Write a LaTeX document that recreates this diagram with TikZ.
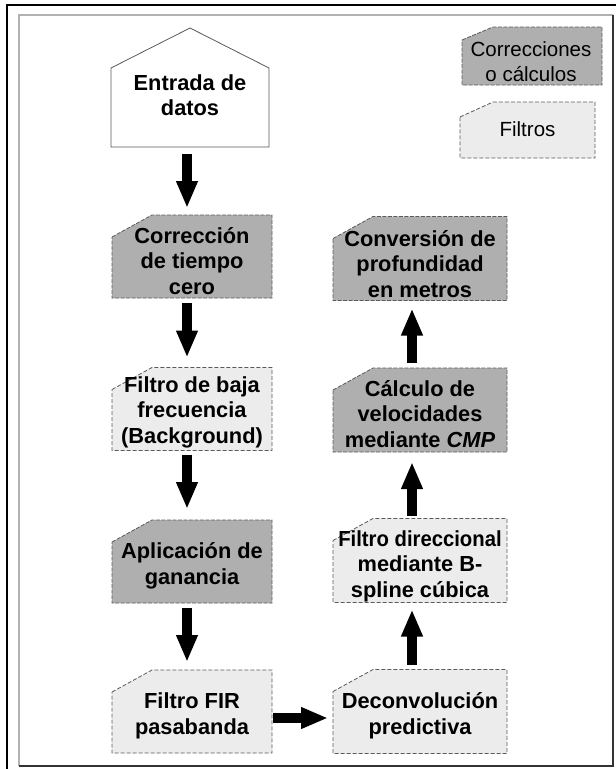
\documentclass[tikz,border=0pt]{standalone}
\usepackage{fontspec}
\setmainfont{Liberation Sans}
\usetikzlibrary{arrows.meta}
\definecolor{darkfill}{HTML}{AFAFAF}
\definecolor{lightfill}{HTML}{ECECEC}
\definecolor{edgec}{HTML}{5A5A5A}
\newcommand\cardshape[4]{\path[#2] ([yshift=-#4]#1.north west) -- ([xshift=#3]#1.north west) -- (#1.north east) -- (#1.south east) -- (#1.south west) -- cycle;}
\begin{document}
\begin{tikzpicture}[x=1pt,y=-1pt,
  every node/.style={inner sep=0pt, outer sep=0pt},
  lcol/.style={minimum width=160pt, minimum height=83pt},
  rcol/.style={minimum width=174pt, minimum height=84pt},
  dk/.style={fill=darkfill, draw=edgec, line width=0.8pt, dash pattern=on 4pt off 1.5pt},
  lt/.style={fill=lightfill, draw=edgec, line width=0.8pt, dash pattern=on 4pt off 2pt},
  lbl/.style={align=center, font=\bfseries\fontsize{21.8}{25.5}\selectfont},
  leglbl/.style={align=center, font=\fontsize{20.5}{25}\selectfont},
  blk/.style={line width=10pt, black, -{Triangle[width=20pt,length=27pt]}}
]
\useasboundingbox (0,0) rectangle (616,769);
% frame
\draw[gray!60, line width=1.5pt] (19,766) -- (19,15) -- (613,15);
\draw[gray!40!black, line width=1.8pt] (613,15) -- (613,766) -- (19,766);
\draw[black, line width=2pt] (7,769) -- (7,5) -- (616,5);

% box placeholders
\node[minimum width=158pt, minimum height=119pt] (entr) at (190,87.5) {};
\node[lcol] (corr) at (192,256.5) {};
\node[lcol] (baja) at (192,409) {};
\node[lcol] (gan) at (192,561.5) {};
\node[lcol] (fir) at (192,711.5) {};
\node[rcol] (conv) at (420,258.5) {};
\node[rcol] (calc) at (420,410) {};
\node[rcol] (dir) at (420,560.5) {};
\node[rcol] (dec) at (420,711.5) {};
\node[minimum width=140pt, minimum height=58pt] (leg1) at (532,56) {};
\node[minimum width=135pt, minimum height=56pt] (leg2) at (527.5,130) {};

% shapes
\path[draw=gray!70!black, fill=white, line width=0.8pt] (entr.south west) -- ([yshift=-40pt]entr.north west) -- (entr.north) -- ([yshift=-40pt]entr.north east) -- (entr.south east) -- cycle;
\cardshape{corr}{dk}{40pt}{22pt}
\cardshape{baja}{lt}{40pt}{22pt}
\cardshape{gan}{dk}{40pt}{22pt}
\cardshape{fir}{lt}{40pt}{22pt}
\cardshape{conv}{dk}{40pt}{22pt}
\cardshape{calc}{dk}{40pt}{22pt}
\cardshape{dir}{lt}{40pt}{22pt}
\cardshape{dec}{lt}{40pt}{22pt}
\cardshape{leg1}{dk}{31pt}{13pt}
\cardshape{leg2}{lt}{33pt}{15pt}

% texts
\node[lbl] (entrT) at (190,95) {Entrada de\\datos};
\node[lbl] (corrT) at (192,261) {Corrección\\de tiempo\\cero};
\node[lbl] (bajaT) at (192,412) {Filtro de baja\\frecuencia\\(Background)};
\node[lbl] (ganT) at (192,566) {Aplicación de\\ganancia};
\node[lbl] (firT) at (192,716) {Filtro FIR\\pasabanda};
\node[lbl] (convT) at (420,264) {Conversión de\\profundidad\\en metros};
\node[lbl] (calcT) at (420,414) {Cálculo de\\velocidades\\mediante \textit{CMP}};
\node[lbl] (dirT) at (420,566) {\scalebox{0.93}[1]{Filtro direccional}\\mediante B-\\spline cúbica};
\node[lbl] (decT) at (420,716) {Deconvolución\\predictiva};
\node[leglbl] (leg1T) at (531,61.5) {Correcciones\\o cálculos};
\node[leglbl] (leg2T) at (527.5,129.5) {Filtros};

% arrows
\draw[blk] ([xshift=-3pt,yshift=-7pt]entr.south) -- ([xshift=-5pt,yshift=7pt]corr.north);
\draw[blk] ([xshift=-5pt,yshift=-5pt]corr.south) -- ([xshift=-5pt,yshift=10pt]baja.north);
\draw[blk] ([xshift=-5pt,yshift=-4pt]baja.south) -- ([xshift=-5pt,yshift=11pt]gan.north);
\draw[blk] ([xshift=-5pt,yshift=-5pt]gan.south) -- ([xshift=-5pt,yshift=8pt]fir.north);
\draw[blk] ([xshift=1pt,yshift=-6.5pt]fir.east) -- ([xshift=-5pt,yshift=-6.5pt]dec.west);
\draw[blk] ([xshift=-8pt,yshift=5pt]dec.north) -- ([xshift=-8pt,yshift=-7pt]dir.south);
\draw[blk] ([xshift=-8pt,yshift=3pt]dir.north) -- ([xshift=-8pt,yshift=-10pt]calc.south);
\draw[blk] ([xshift=-8pt,yshift=5pt]calc.north) -- ([xshift=-8pt,yshift=-8pt]conv.south);
\end{tikzpicture}
\end{document}
